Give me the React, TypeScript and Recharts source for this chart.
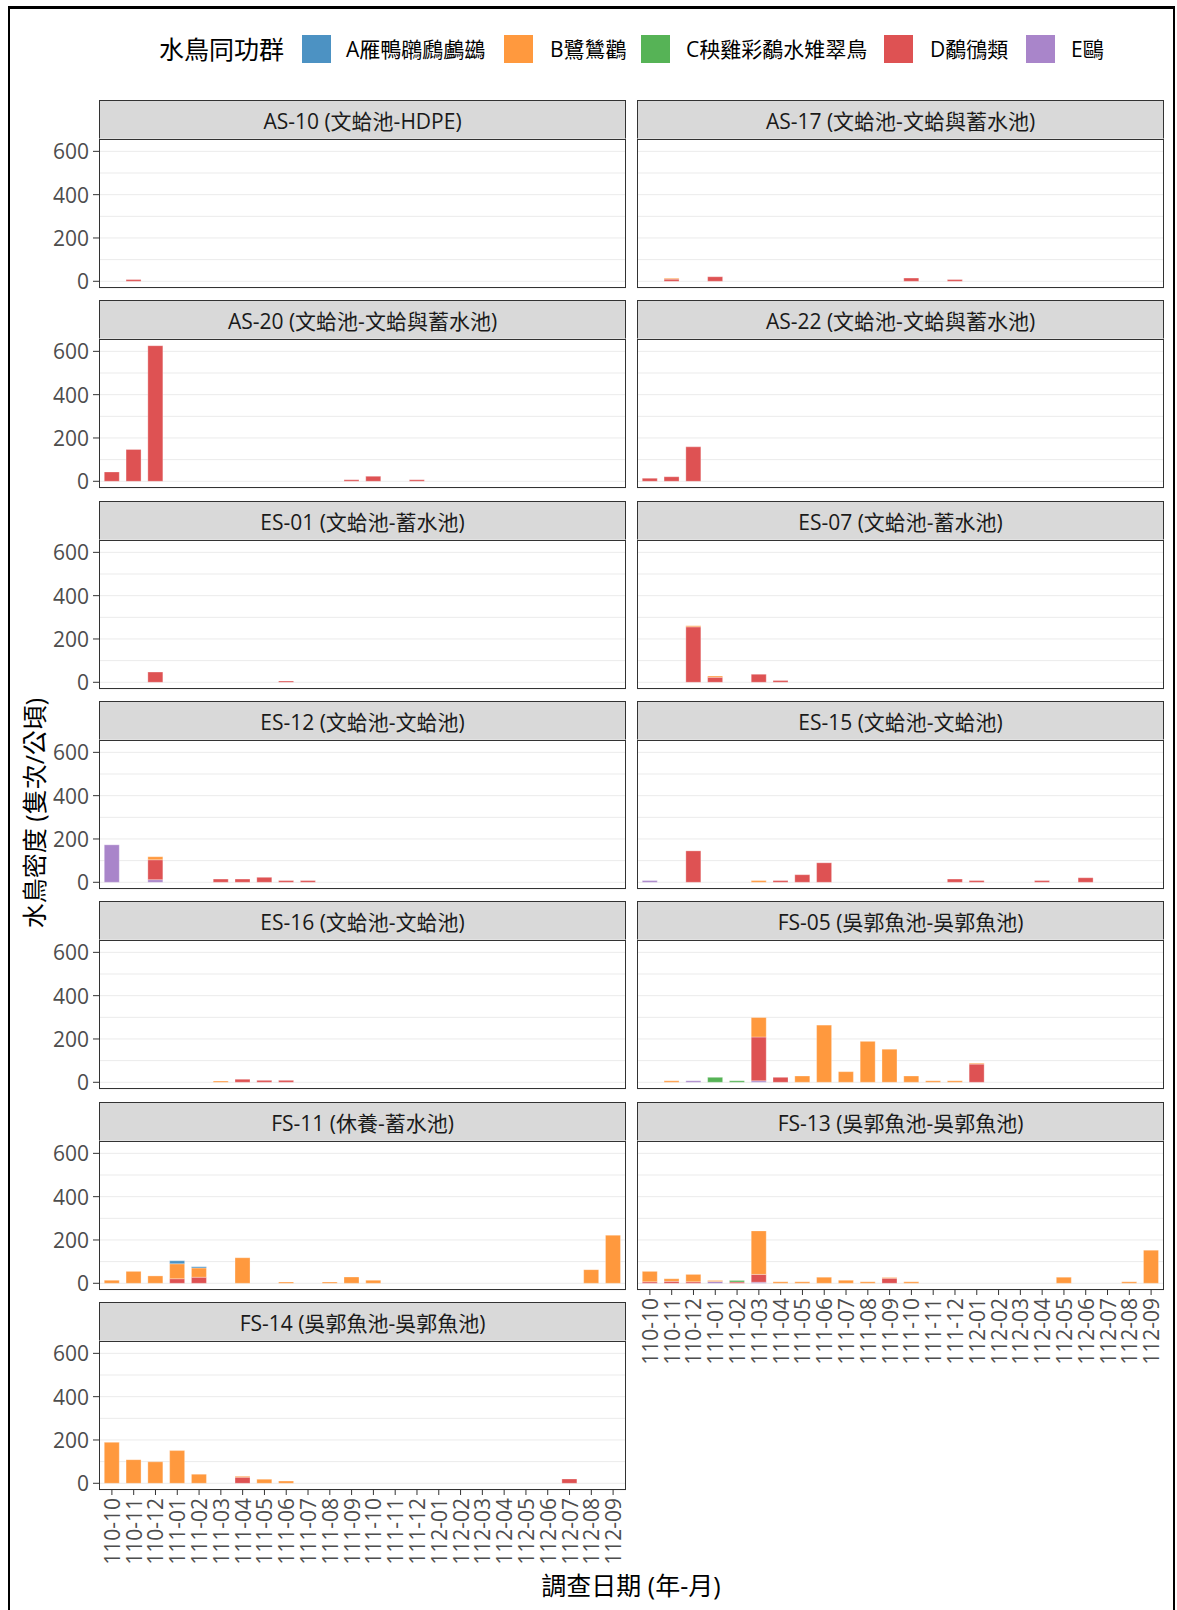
import React from 'react';
import { BarChart, Bar, XAxis, YAxis, CartesianGrid } from 'recharts';

const FONT = "'Open Sans', 'Noto Sans CJK TC', sans-serif";

const MONTHS = ['110-10','110-11','110-12','111-01','111-02','111-03','111-04','111-05','111-06','111-07','111-08','111-09','111-10','111-11','111-12','112-01','112-02','112-03','112-04','112-05','112-06','112-07','112-08','112-09'];
const GROUP_NAMES = ['A雁鴨鸊鷉鸕鷀','B鷺鷥鸛','C秧雞彩鷸水雉翠鳥','D鷸鴴類','E鷗'];
const GROUP_COLORS = ['#4C92C3','#FF993E','#56B356','#DE5253','#A985CA'];
const LEGEND_TITLE = '水鳥同功群';
const LABELLED_TICKS = [0, 200, 400, 600];
const GRID_TICKS = [0, 100, 200, 300, 400, 500, 600];
const Y_DOMAIN = [-31, 657];

const NONE = [0,0,0,0,0,0,0,0,0,0,0,0,0,0,0,0,0,0,0,0,0,0,0,0];

const AS10_D = [0,8,0,0,0,0,0,0,0,0,0,0,0,0,0,0,0,0,0,0,0,0,0,0];
const AS17_B = [0,4,0,0,0,0,0,0,0,0,0,0,0,0,0,0,0,0,0,0,0,0,0,0];
const AS17_D = [0,10,0,21,0,0,0,0,0,0,0,0,15,0,8,0,0,0,0,0,0,0,0,0];
const AS20_D = [43,147,626,0,0,0,0,0,0,0,0,7,23,0,7,0,0,0,0,0,0,0,0,0];
const AS22_D = [14,21,159,0,0,0,0,0,0,0,0,0,0,0,0,0,0,0,0,0,0,0,0,0];
const ES01_D = [0,0,47,0,0,0,0,0,6,0,0,0,0,0,0,0,0,0,0,0,0,0,0,0];
const ES07_B = [0,0,5,6,0,0,0,0,0,0,0,0,0,0,0,0,0,0,0,0,0,0,0,0];
const ES07_D = [0,0,256,23,0,37,8,0,0,0,0,0,0,0,0,0,0,0,0,0,0,0,0,0];
const ES12_B = [0,0,14,0,0,0,0,0,0,0,0,0,0,0,0,0,0,0,0,0,0,0,0,0];
const ES12_D = [0,0,92,0,0,15,15,23,8,8,0,0,0,0,0,0,0,0,0,0,0,0,0,0];
const ES12_E = [173,0,12,0,0,0,0,0,0,0,0,0,0,0,0,0,0,0,0,0,0,0,0,0];
const ES15_B = [0,0,0,0,0,8,0,0,0,0,0,0,0,0,0,0,0,0,0,0,0,0,0,0];
const ES15_D = [0,0,145,0,0,0,8,35,90,0,0,0,0,0,15,8,0,0,8,0,21,0,0,0];
const ES15_E = [8,0,0,0,0,0,0,0,0,0,0,0,0,0,0,0,0,0,0,0,0,0,0,0];
const ES16_B = [0,0,0,0,0,6,0,0,0,0,0,0,0,0,0,0,0,0,0,0,0,0,0,0];
const ES16_D = [0,0,0,0,0,0,14,9,9,0,0,0,0,0,0,0,0,0,0,0,0,0,0,0];
const FS05_B = [0,7,0,0,0,90,0,29,264,49,189,153,29,7,7,4,0,0,0,0,0,0,0,0];
const FS05_C = [0,0,0,23,7,0,0,0,0,0,0,0,0,0,0,0,0,0,0,0,0,0,0,0];
const FS05_D = [0,0,0,0,0,202,23,0,0,0,0,0,0,0,0,84,0,0,0,0,0,0,0,0];
const FS05_E = [0,0,7,0,0,7,0,0,0,0,0,0,0,0,0,0,0,0,0,0,0,0,0,0];
const FS11_A = [0,0,0,14,5,0,0,0,0,0,0,0,0,0,0,0,0,0,0,0,0,0,0,0];
const FS11_B = [14,55,34,69,43,0,118,0,6,0,6,29,14,0,0,0,0,0,0,0,0,0,63,222];
const FS11_D = [0,0,0,21,28,0,0,0,0,0,0,0,0,0,0,0,0,0,0,0,0,0,0,0];
const FS13_B = [48,12,34,5,0,201,7,7,28,14,7,4,7,0,0,0,0,0,0,28,0,0,7,153];
const FS13_C = [0,0,0,0,7,0,0,0,0,0,0,0,0,0,0,0,0,0,0,0,0,0,0,0];
const FS13_D = [7,9,7,0,6,36,0,0,0,0,0,23,0,0,0,0,0,0,0,0,0,0,0,0];
const FS13_E = [0,0,0,8,0,5,0,0,0,0,0,0,0,0,0,0,0,0,0,0,0,0,0,0];
const FS14_B = [189,109,99,151,42,0,4,19,10,0,0,0,0,0,0,0,0,0,0,0,0,0,0,0];
const FS14_D = [0,0,0,0,0,0,28,0,0,0,0,0,0,0,0,0,0,0,0,0,0,20,0,0];

type Spec = { title: string; row: number; col: number; showX: boolean; s: number[][] };

// s = [A, B, C, D, E]
const PANELS: Spec[] = [
  { title: 'AS-10 (文蛤池-HDPE)', row: 0, col: 0, showX: false, s: [NONE, NONE, NONE, AS10_D, NONE] },
  { title: 'AS-17 (文蛤池-文蛤與蓄水池)', row: 0, col: 1, showX: false, s: [NONE, AS17_B, NONE, AS17_D, NONE] },
  { title: 'AS-20 (文蛤池-文蛤與蓄水池)', row: 1, col: 0, showX: false, s: [NONE, NONE, NONE, AS20_D, NONE] },
  { title: 'AS-22 (文蛤池-文蛤與蓄水池)', row: 1, col: 1, showX: false, s: [NONE, NONE, NONE, AS22_D, NONE] },
  { title: 'ES-01 (文蛤池-蓄水池)', row: 2, col: 0, showX: false, s: [NONE, NONE, NONE, ES01_D, NONE] },
  { title: 'ES-07 (文蛤池-蓄水池)', row: 2, col: 1, showX: false, s: [NONE, ES07_B, NONE, ES07_D, NONE] },
  { title: 'ES-12 (文蛤池-文蛤池)', row: 3, col: 0, showX: false, s: [NONE, ES12_B, NONE, ES12_D, ES12_E] },
  { title: 'ES-15 (文蛤池-文蛤池)', row: 3, col: 1, showX: false, s: [NONE, ES15_B, NONE, ES15_D, ES15_E] },
  { title: 'ES-16 (文蛤池-文蛤池)', row: 4, col: 0, showX: false, s: [NONE, ES16_B, NONE, ES16_D, NONE] },
  { title: 'FS-05 (吳郭魚池-吳郭魚池)', row: 4, col: 1, showX: false, s: [NONE, FS05_B, FS05_C, FS05_D, FS05_E] },
  { title: 'FS-11 (休養-蓄水池)', row: 5, col: 0, showX: false, s: [FS11_A, FS11_B, NONE, FS11_D, NONE] },
  { title: 'FS-13 (吳郭魚池-吳郭魚池)', row: 5, col: 1, showX: true, s: [NONE, FS13_B, FS13_C, FS13_D, FS13_E] },
  { title: 'FS-14 (吳郭魚池-吳郭魚池)', row: 6, col: 0, showX: true, s: [NONE, FS14_B, NONE, FS14_D, NONE] },
];

const PW = 527;
const PH = 149;
const STRIP_H = 39;
const PAD = 14;

const XTick = (props: any) => {
  const { x, y, payload } = props;
  return (
    <text x={x} y={y} transform={`rotate(-90 ${x} ${y})`} textAnchor="end" dominantBaseline="central"
      fontSize={21} fill="#4D4D4D" fontFamily={FONT}>{payload.value}</text>
  );
};

const YTick = (props: any) => {
  const { x, y, payload } = props;
  if (!LABELLED_TICKS.includes(payload.value)) return <g />;
  return (
    <g>
      <line x1={x - 6} x2={x} y1={y} y2={y} stroke="#333" strokeWidth={1} />
      <text x={x - 10} y={y} textAnchor="end" dominantBaseline="central" fontSize={21} fill="#4D4D4D" fontFamily={FONT}>
        {payload.value}
      </text>
    </g>
  );
};

function Panel({ spec }: { spec: Spec }) {
  const plotLeft = spec.col === 0 ? 99 : 637;
  const plotTop = Math.round(139 + 200.3 * spec.row);
  const axisW = spec.col === 0 ? 60 : 0;
  const xH = spec.showX ? 95 : 0;
  const bottomPad = spec.showX ? 0 : PAD;
  const data = MONTHS.map((m, i) => ({
    m, A: spec.s[0][i], B: spec.s[1][i], C: spec.s[2][i], D: spec.s[3][i], E: spec.s[4][i],
  }));
  // stack from bottom: E, D, C, B, A
  const order = [4, 3, 2, 1, 0];
  const keys = ['A', 'B', 'C', 'D', 'E'];
  return (
    <>
      <div style={{
        position: 'absolute', left: plotLeft, top: plotTop - STRIP_H, width: PW, height: STRIP_H + 1,
        boxSizing: 'border-box', border: '1px solid #333', background: '#D9D9D9',
        display: 'flex', alignItems: 'center', justifyContent: 'center',
        fontSize: 21, color: '#1A1A1A', fontFamily: FONT, whiteSpace: 'nowrap',
      }}>{spec.title}</div>
      <div style={{ position: 'absolute', left: plotLeft - axisW, top: plotTop - PAD }}>
        <BarChart width={PW + axisW} height={PH + xH + PAD + bottomPad} data={data}
          margin={{ top: PAD, right: 0, bottom: bottomPad, left: 0 }} barCategoryGap="15%">
          <CartesianGrid vertical={false} stroke="#EBEBEB" strokeWidth={1} />
          <XAxis dataKey="m" type="category" hide={!spec.showX} height={xH} interval={0}
            padding={{ left: 2, right: 2 }} axisLine={false}
            tickLine={{ stroke: '#333' }} tickSize={5} tickMargin={3} tick={<XTick />} />
          <YAxis hide={spec.col !== 0} width={axisW} domain={Y_DOMAIN} ticks={GRID_TICKS} interval={0}
            allowDataOverflow type="number" axisLine={false} tickLine={false} tickSize={0} tickMargin={0}
            tick={<YTick />} />
          {order.map((gi) => (
            <Bar key={keys[gi]} dataKey={keys[gi]} stackId="s" fill={GROUP_COLORS[gi]}
              stroke="#ffffff" strokeOpacity={0.5} strokeWidth={0.6} isAnimationActive={false} />
          ))}
        </BarChart>
      </div>
      <div style={{
        position: 'absolute', left: plotLeft, top: plotTop, width: PW, height: PH,
        boxSizing: 'border-box', border: '1px solid #333', pointerEvents: 'none',
      }} />
    </>
  );
}

const LEGEND_KEY_X = [301, 503, 640, 883, 1025];
const LEGEND_LABEL_X = [346, 550, 686, 930, 1071];

export default function App() {
  return (
    <div style={{ position: 'absolute', left: 0, top: 0, width: 1177, height: 1610, background: '#fff', fontFamily: FONT, overflow: 'hidden' }}>
      <div style={{ position: 'absolute', left: 8, top: 6, width: 1167, height: 1640, boxSizing: 'border-box', border: '2px solid #000', borderTopWidth: 3 }} />
      <div style={{ position: 'absolute', left: 159, top: 34, height: 30, lineHeight: '30px', fontSize: 25, color: '#000', whiteSpace: 'nowrap' }}>{LEGEND_TITLE}</div>
      {GROUP_NAMES.map((name, i) => (
        <React.Fragment key={name}>
          <div style={{ position: 'absolute', left: LEGEND_KEY_X[i], top: 34, width: 31, height: 30, background: GROUP_COLORS[i], boxSizing: 'border-box', border: '1px solid #fff' }} />
          <div style={{ position: 'absolute', left: LEGEND_LABEL_X[i], top: 34, height: 30, lineHeight: '30px', fontSize: 21, color: '#000', whiteSpace: 'nowrap' }}>{name}</div>
        </React.Fragment>
      ))}
      {PANELS.map((p) => <Panel key={p.title} spec={p} />)}
      <div style={{ position: 'absolute', left: 0, width: 1262, top: 1570, height: 30, lineHeight: '30px', textAlign: 'center', fontSize: 25, color: '#000' }}>調查日期 (年-月)</div>
      <div style={{ position: 'absolute', left: 34, top: 813, transform: 'translate(-50%, -50%) rotate(-90deg)', fontSize: 25, color: '#000', whiteSpace: 'nowrap', lineHeight: '30px' }}>水鳥密度 (隻次/公頃)</div>
    </div>
  );
}
